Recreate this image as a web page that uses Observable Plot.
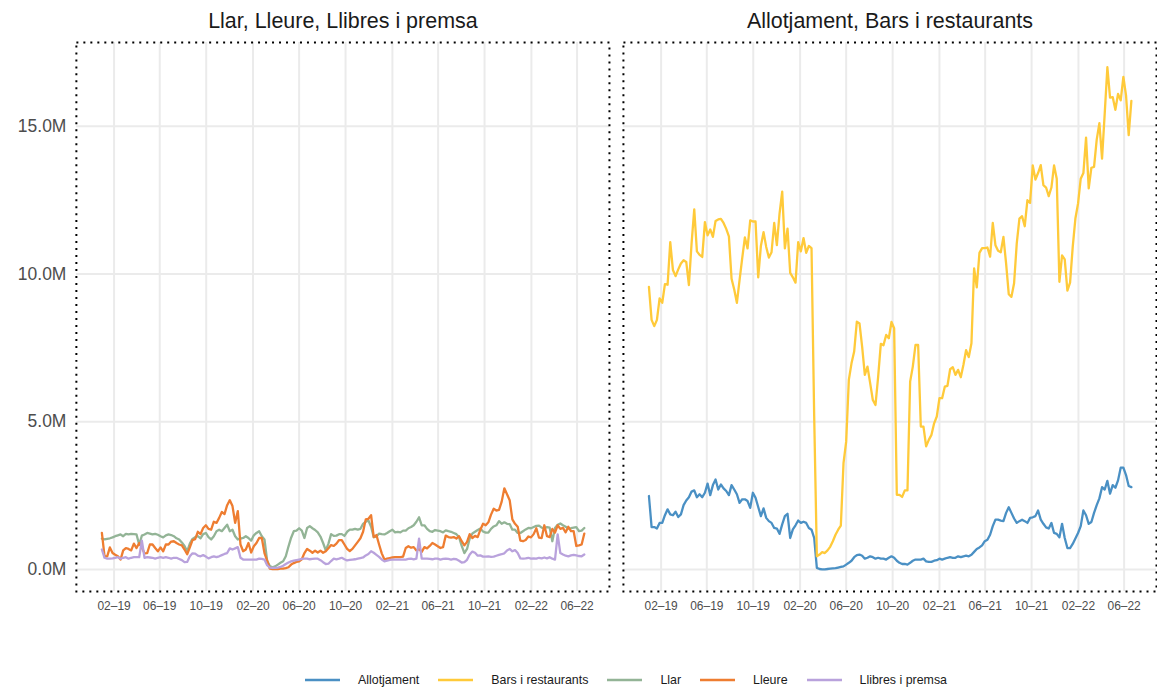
<!DOCTYPE html>
<html><head><meta charset="utf-8">
<script src="https://cdn.jsdelivr.net/npm/d3@7"></script>
<script src="https://cdn.jsdelivr.net/npm/@observablehq/plot@0.6"></script>
<style>
html,body{margin:0;padding:0;background:#fff;overflow:hidden;}
body{width:1157px;height:689px;font-family:"Liberation Sans",Arial,sans-serif;}
#chart svg{display:block;}
#legend{display:flex;justify-content:flex-start;align-items:center;height:16px;margin-top:33px;padding-left:305px;font-size:12.4px;color:#1a1a1a;width:852px;}
#legend .item{display:flex;align-items:center;margin-right:19px;}
#legend .item svg{margin-right:18px;}
</style></head>
<body><div id="chart"></div><div id="legend"></div>
<script>
// ---- data (values in millions, weekly from 2018-12-31) ----
const weekStart = "2018-12-31";
const panels = ["Llar, Lleure, Llibres i premsa", "Allotjament, Bars i restaurants"];
const seriesNames = ["Allotjament", "Bars i restaurants", "Llar", "Lleure", "Llibres i premsa"];
const seriesPanels = [1, 1, 0, 0, 0];
const seriesColors = ["#4a90c4", "#ffca3a", "#93b496", "#ee7d31", "#b9a2dc"];

const allotjament = [
2.49,1.44,1.44,1.39,1.58,1.58,1.84,2.04,1.87,1.84,
1.96,1.78,1.87,2.18,2.34,2.45,2.64,2.68,2.45,2.55,
2.45,2.60,2.91,2.52,2.86,3.05,2.71,2.88,2.75,2.66,
2.52,2.86,2.71,2.55,2.26,2.38,2.38,2.32,2.09,2.60,
2.43,2.12,1.81,2.07,1.75,1.64,1.58,1.41,1.39,1.21,
1.53,1.81,1.89,1.07,1.36,1.50,1.66,1.58,1.62,1.58,
1.41,1.35,1.07,0.06,0.02,0.01,0.01,0.02,0.03,0.04,
0.05,0.07,0.09,0.11,0.17,0.23,0.30,0.42,0.49,0.51,
0.47,0.37,0.40,0.45,0.42,0.37,0.40,0.37,0.37,0.34,
0.40,0.45,0.40,0.30,0.23,0.19,0.19,0.17,0.23,0.30,
0.34,0.34,0.34,0.37,0.28,0.26,0.26,0.30,0.32,0.37,
0.34,0.37,0.40,0.42,0.40,0.40,0.45,0.42,0.45,0.47,
0.45,0.50,0.60,0.70,0.75,0.82,0.96,1.01,1.18,1.47,
1.69,1.69,1.66,1.64,1.92,2.11,1.92,1.73,1.58,1.64,
1.69,1.64,1.58,1.75,1.77,1.81,2.00,1.69,1.55,1.43,
1.39,1.58,1.24,1.21,1.09,1.55,1.07,0.73,0.73,0.87,
1.05,1.24,1.47,2.00,1.84,1.55,1.61,1.92,2.18,2.41,
2.79,2.71,3.00,2.57,2.86,2.77,3.02,3.45,3.45,3.20,
2.83,2.79];

const barsRestaurants = [
9.57,8.45,8.24,8.45,9.18,9.03,9.66,9.64,11.08,10.14,
9.93,10.16,10.36,10.47,10.41,9.63,11.04,12.19,10.77,10.65,
10.58,11.76,11.31,11.51,11.26,11.80,11.85,11.87,11.73,11.53,
11.28,9.84,9.48,9.03,9.80,10.54,11.24,10.87,11.82,11.78,
11.78,9.89,10.95,11.42,10.92,10.56,10.74,11.73,10.98,12.05,
12.79,10.87,11.54,10.04,9.89,9.71,11.08,10.77,11.22,10.72,
10.95,10.88,5.20,0.45,0.51,0.59,0.56,0.65,0.77,0.96,
1.18,1.35,1.49,3.60,4.33,6.42,6.98,7.38,8.39,8.33,
7.54,6.59,6.87,6.31,5.74,5.57,6.53,7.64,7.59,7.94,
7.83,8.38,8.17,2.53,2.53,2.46,2.68,2.68,6.36,6.87,
7.60,7.60,4.84,4.84,4.17,4.39,4.56,4.95,5.18,5.80,
5.80,6.19,6.22,6.78,6.85,6.59,6.76,6.51,6.93,7.43,
7.19,7.66,10.19,9.55,10.72,10.88,10.88,10.90,10.59,11.73,
10.98,10.79,10.74,11.26,10.36,9.32,9.23,9.69,11.04,11.88,
11.96,11.62,12.50,12.41,13.68,13.20,13.42,13.69,13.01,12.93,
12.64,12.93,13.68,13.23,9.74,10.63,10.50,9.44,9.71,10.92,
11.88,12.39,13.23,13.42,14.62,12.90,13.60,13.63,14.55,15.11,
13.91,15.43,17.00,15.97,15.99,15.56,16.10,15.88,16.67,16.05,
14.70,15.86];

const llar = [
1.05,1.02,1.04,1.06,1.09,1.13,1.16,1.19,1.13,1.21,
1.19,1.21,1.20,1.19,0.84,1.15,1.19,1.24,1.22,1.19,
1.21,1.18,1.13,1.09,1.16,1.19,1.17,1.13,1.06,1.02,
0.92,0.80,0.62,0.88,1.04,1.10,1.13,1.06,1.20,1.24,
1.10,1.02,1.13,1.30,1.35,1.30,1.41,1.52,1.30,1.35,
1.13,1.02,1.05,1.07,1.13,1.07,0.98,1.16,1.24,1.30,
1.13,1.02,0.30,0.12,0.08,0.11,0.17,0.23,0.28,0.45,
0.78,1.08,1.30,1.32,1.40,1.32,1.07,1.41,1.47,1.40,
1.34,1.26,1.12,0.90,0.65,0.88,1.20,1.14,1.15,1.20,
1.20,1.14,1.28,1.35,1.35,1.38,1.35,1.38,1.55,1.62,
1.66,1.45,1.10,1.12,1.22,1.20,1.19,1.24,1.30,1.35,
1.26,1.28,1.26,1.32,1.32,1.40,1.44,1.50,1.62,1.77,
1.50,1.50,1.38,1.30,1.28,1.34,1.32,1.30,1.26,1.33,
1.30,1.28,1.24,1.20,1.10,0.80,0.56,0.70,1.05,1.22,
1.28,1.34,1.39,1.29,1.25,1.25,1.38,1.46,1.50,1.64,
1.55,1.60,1.55,1.54,1.35,1.35,1.24,1.24,1.30,1.36,
1.41,1.40,1.44,1.48,1.49,1.42,1.40,1.44,1.42,0.96,
1.41,1.52,1.56,1.50,1.45,1.39,1.40,1.42,1.44,1.30,
1.32,1.41];

const lleure = [
1.24,0.45,0.45,0.75,0.56,0.50,0.45,0.34,0.65,0.73,
0.70,0.65,0.88,0.73,0.90,0.75,0.55,0.56,0.85,0.85,
0.73,0.62,0.75,0.62,0.85,0.85,0.95,0.96,0.90,0.85,
0.82,0.68,0.52,0.75,1.00,1.03,1.28,1.20,1.41,1.50,
1.38,1.35,1.62,1.58,1.75,1.95,1.88,2.18,2.35,2.15,
1.58,1.98,0.85,0.62,0.68,0.90,0.58,0.79,0.90,1.07,
1.07,0.56,0.30,0.03,0.02,0.02,0.02,0.03,0.03,0.05,
0.08,0.17,0.22,0.26,0.28,0.35,0.56,0.70,0.64,0.57,
0.64,0.58,0.64,0.57,0.62,0.72,0.83,0.80,0.88,1.00,
1.00,0.85,0.70,0.63,0.70,0.82,0.94,1.06,1.28,1.70,
1.72,1.84,1.10,1.17,0.85,0.55,0.34,0.37,0.39,0.41,
0.42,0.42,0.42,0.44,0.73,0.79,0.74,0.76,0.65,0.70,
0.60,0.76,0.72,0.80,0.90,0.85,0.79,0.73,0.76,1.15,
1.10,1.08,1.10,1.05,1.13,0.96,0.82,0.94,1.20,1.07,
1.14,1.10,1.35,1.55,1.50,1.60,1.86,2.06,2.00,2.02,
2.30,2.75,2.55,2.35,1.70,1.55,1.45,0.98,0.96,1.00,
1.12,1.09,1.20,1.40,1.08,1.07,1.50,1.13,1.10,1.38,
1.25,1.50,1.38,1.41,1.26,1.45,1.30,1.30,0.80,0.82,
0.85,1.22];

const llibresPremsa = [
0.68,0.40,0.37,0.37,0.38,0.40,0.42,0.37,0.40,0.42,
0.37,0.40,0.42,0.42,0.42,0.98,0.40,0.42,0.41,0.40,
0.37,0.40,0.42,0.40,0.42,0.40,0.37,0.40,0.40,0.36,
0.32,0.25,0.26,0.45,0.55,0.54,0.47,0.45,0.49,0.44,
0.38,0.42,0.45,0.42,0.45,0.49,0.53,0.56,0.72,0.68,
0.72,0.76,0.40,0.34,0.34,0.34,0.34,0.34,0.34,0.37,
0.36,0.34,0.15,0.07,0.06,0.06,0.07,0.09,0.13,0.19,
0.24,0.28,0.30,0.32,0.34,0.36,0.37,0.37,0.35,0.36,
0.37,0.37,0.32,0.25,0.19,0.20,0.29,0.37,0.35,0.37,
0.40,0.35,0.31,0.33,0.34,0.35,0.37,0.39,0.41,0.48,
0.53,0.62,0.57,0.50,0.43,0.34,0.28,0.30,0.33,0.34,
0.34,0.34,0.34,0.34,0.34,0.36,0.37,0.35,0.37,1.05,
0.37,0.37,0.37,0.36,0.35,0.37,0.37,0.34,0.36,0.37,
0.36,0.34,0.36,0.35,0.30,0.24,0.25,0.33,0.51,0.61,
0.57,0.47,0.48,0.44,0.44,0.45,0.43,0.44,0.47,0.50,
0.52,0.55,0.65,0.70,0.62,0.66,0.56,0.38,0.37,0.38,
0.40,0.37,0.38,0.37,0.40,0.38,0.41,0.38,0.42,0.37,
0.34,1.19,0.56,0.51,0.47,0.45,0.48,0.50,0.48,0.46,
0.45,0.51];

const seriesValues = [allotjament, barsRestaurants, llar, lleure, llibresPremsa];

const yTicks = [0, 5, 10, 15];
const xTickDates = ["2019-02-01","2019-06-01","2019-10-01","2020-02-01","2020-06-01","2020-10-01",
                    "2021-02-01","2021-06-01","2021-10-01","2022-02-01","2022-06-01"];
const xTickLabels = ["02–19","06–19","10–19","02–20","06–20","10–20","02–21","06–21","10–21","02–22","06–22"];

// ---- build table ----
const start = new Date(weekStart + "T00:00:00Z");
const rows = [];
seriesNames.forEach((name, s) => {
  seriesValues[s].forEach((v, i) => {
    rows.push({date: d3.utcDay.offset(start, 7 * i), value: v, series: name, panel: panels[seriesPanels[s]]});
  });
});
const xTicks = xTickDates.map(s => new Date(s + "T00:00:00Z"));
const labelOf = new Map(xTicks.map((d, i) => [+d, xTickLabels[i]]));

const font = "'Liberation Sans', Arial, sans-serif";
const chart = Plot.plot({
  width: 1159, height: 640,
  marginLeft: 76, marginRight: 0, marginTop: 42, marginBottom: 48,
  style: {fontFamily: font, background: "white", overflow: "visible"},
  fx: {domain: panels, paddingInner: 0.0255, paddingOuter: 0, label: null, axis: null},
  x: {type: "utc", domain: [new Date("2018-10-25T00:00:00Z"), new Date("2022-08-25T00:00:00Z")], axis: null},
  y: {domain: [-0.74, 17.84], axis: null},
  color: {domain: seriesNames, range: seriesColors},
  marks: [
    Plot.gridY(yTicks, {stroke: "#ebebeb", strokeOpacity: 1, strokeWidth: 2}),
    Plot.gridX(xTicks, {stroke: "#ebebeb", strokeOpacity: 1, strokeWidth: 2}),
    Plot.lineY(rows, {x: "date", y: "value", z: "series", stroke: "series", fx: "panel", strokeWidth: 2.3, curve: "linear"}),
    Plot.frame({stroke: "#000", strokeWidth: 2, strokeDasharray: "2,5"}),
    Plot.axisX(xTicks, {tickSize: 0, tickPadding: 10, tickFormat: d => labelOf.get(+d), fontSize: 12, color: "#4d4d4d", label: null}),
    Plot.axisY(yTicks, {tickSize: 0, tickPadding: 10, tickFormat: d => d.toFixed(1) + "M", fontSize: 17.5, color: "#4d4d4d", label: null}),
    Plot.axisFx({anchor: "top", tickSize: 0, tickPadding: 14, fontSize: 21.5, color: "#1a1a1a", label: null})
  ]
});
document.getElementById("chart").appendChild(chart);

// ---- legend ----
const legend = document.getElementById("legend");
seriesNames.forEach((name, s) => {
  const item = document.createElement("div");
  item.className = "item";
  item.innerHTML = `<svg width="35" height="6"><line x1="0" y1="3" x2="35" y2="3" stroke="${seriesColors[s]}" stroke-width="2.5"/></svg><span>${name}</span>`;
  legend.appendChild(item);
});
</script>
</body></html>
